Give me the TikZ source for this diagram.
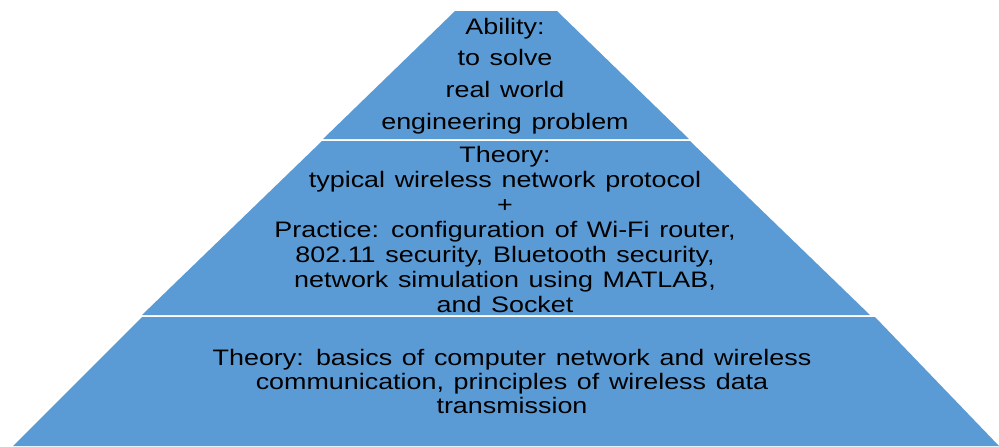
\documentclass[tikz,border=0pt]{standalone}
\usepackage{fontspec}
\usepackage{xcolor}
\setmainfont{Liberation Sans}
\newfontfamily\tierfont[FakeStretch=1.2,WordSpace=1.3]{Liberation Sans}
\definecolor{tierblue}{RGB}{91,155,213}

\begin{document}
\begin{tikzpicture}[x=0.5pt,y=-0.5pt,
        tier/.style={fill=tierblue},
        words/.style={align=center,inner sep=0pt,text=black}]
        % 三层金字塔
        \useasboundingbox (0,0) rectangle (999,446);
        \fill[tier] (455,11) -- (557,11) -- (689,139) -- (323,139) -- cycle;
        \fill[tier] (322,141) -- (690,141) -- (870,315) -- (142,315) -- cycle;
        \fill[tier] (142,317) -- (875,317) -- (999,446) -- (13,446) -- cycle;
        \node[words,font=\tierfont\fontsize{11.2}{15.9}\selectfont] (ability) at (505,76) {Ability:\\ to solve\\ real world\\ engineering problem};
        \node[words,font=\tierfont\fontsize{11.2}{12.45}\selectfont] (practice) at (505,229.5) {Theory:\\ typical wireless network protocol\\ +\\ Practice: configuration of Wi-Fi router,\\ 802.11 security, Bluetooth security,\\ network simulation using MATLAB,\\ and Socket};
        \node[words,font=\tierfont\fontsize{11.2}{11.8}\selectfont] (basics) at (512,381.5) {Theory: basics of computer network and wireless\\ communication, principles of wireless data\\ transmission};
    \end{tikzpicture}
\end{document}
